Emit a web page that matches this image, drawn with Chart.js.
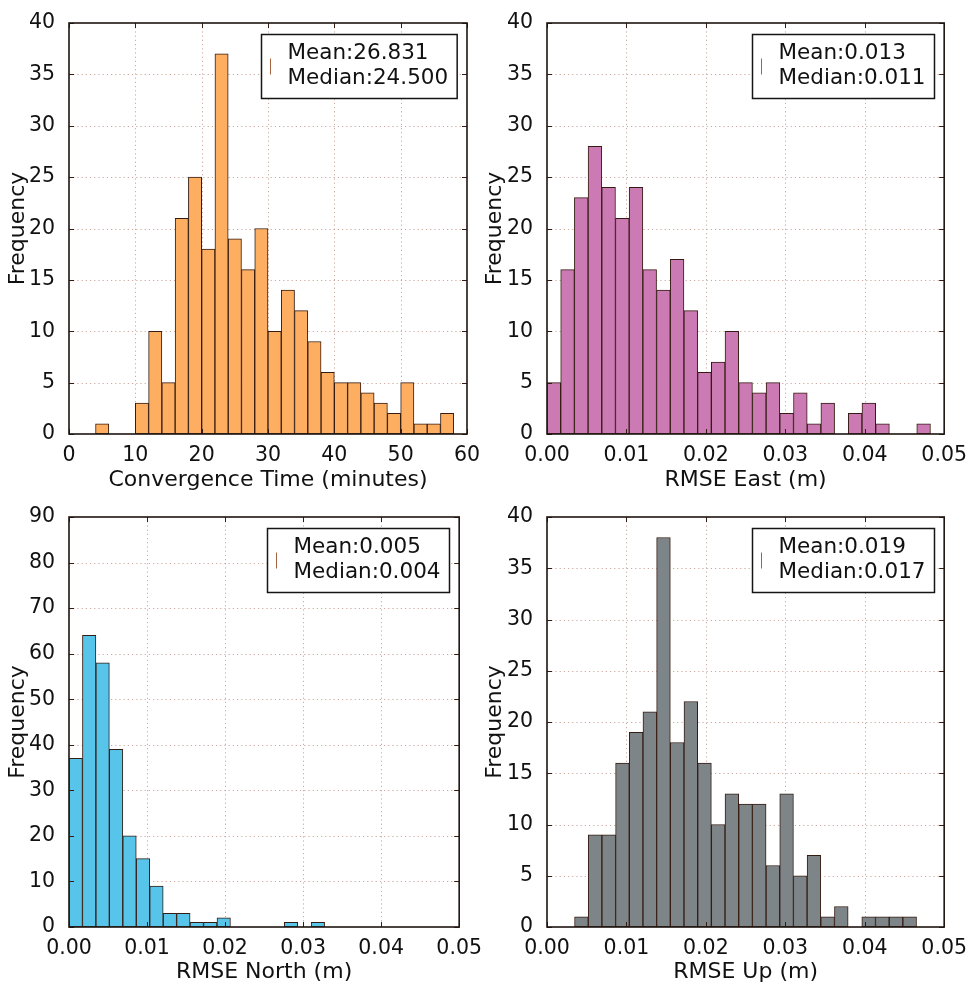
<!DOCTYPE html>
<html>
<head>
<meta charset="utf-8">
<script src="https://cdn.jsdelivr.net/npm/chart.js@4/dist/chart.umd.min.js"></script>
<style>
  html, body { margin: 0; padding: 0; background: #fff; }
  #page { position: relative; width: 970px; height: 983px; overflow: hidden; }
  .panel { position: absolute; }
</style>
</head>
<body>
<div id="page">
  <div class="panel" style="left:0;top:0"><canvas id="cTime" width="485" height="491"></canvas></div>
  <div class="panel" style="left:477px;top:0"><canvas id="cEast" width="493" height="491"></canvas></div>
  <div class="panel" style="left:0;top:491px"><canvas id="cNorth" width="485" height="492"></canvas></div>
  <div class="panel" style="left:477px;top:491px"><canvas id="cUp" width="493" height="492"></canvas></div>
</div>
<script>
// ---- histogram counts (254 sessions per panel) ----
const timeCounts  = [1, 0, 0, 3, 10, 5, 21, 25, 18, 37, 19, 16, 20, 10, 14, 12, 9, 6, 5, 5, 4, 3, 2, 5, 1, 1, 2];
const eastCounts  = [5, 16, 23, 28, 24, 21, 24, 16, 14, 17, 12, 6, 7, 10, 5, 4, 5, 2, 4, 1, 3, 0, 2, 3, 1, 0, 0, 1];
const northCounts = [37, 64, 58, 39, 20, 15, 9, 3, 3, 1, 1, 2, 0, 0, 0, 0, 1, 0, 1];
const upCounts    = [1, 9, 9, 16, 19, 21, 38, 18, 22, 16, 10, 13, 12, 12, 6, 13, 5, 7, 1, 2, 0, 1, 1, 1, 1];

// ---- bin layout: first left edge and bin width ----
const timeBins  = [4.0, 2.0];
const eastBins  = [0.0, 0.001724];
const northBins = [0.0, 0.001724];
const upBins    = [0.00347, 0.001722];

// ---- axis titles and statistics shown in the boxes ----
const xTitles = ['Convergence Time (minutes)', 'RMSE East (m)', 'RMSE North (m)', 'RMSE Up (m)'];
const meanLabels   = ['Mean:26.831', 'Mean:0.013', 'Mean:0.005', 'Mean:0.019'];
const medianLabels = ['Median:24.500', 'Median:0.011', 'Median:0.004', 'Median:0.017'];

// ---- axis ranges ----
const xMax   = [60, 0.05, 0.05, 0.05];
const xStep  = [10, 0.01, 0.01, 0.01];
const yMax   = [40, 40, 90, 40];
const yStep  = [5, 5, 10, 5];

const FONT = "'DejaVu Sans', 'Liberation Sans', sans-serif";
const TEXT = '#111111';
const EDGE = '#351c12';

function binPoints(counts, bins) {
  return counts.map((c, i) => ({ x: bins[0] + bins[1] * (i + 0.5), y: c }));
}

// grid, frame, inward ticks and the statistics box
const framePlugin = {
  id: 'frameBox',
  beforeDatasetsDraw(chart) {
    const { ctx, chartArea: a, scales: { x, y } } = chart;
    ctx.save();
    ctx.strokeStyle = 'rgba(190,140,125,0.75)';
    ctx.lineWidth = 1;
    ctx.setLineDash([1.2, 3]);
    x.ticks.forEach(t => {
      const px = Math.round(x.getPixelForValue(t.value)) + 0.5;
      if (px <= a.left + 1 || px >= a.right - 1) return;
      ctx.beginPath(); ctx.moveTo(px, a.top); ctx.lineTo(px, a.bottom); ctx.stroke();
    });
    y.ticks.forEach(t => {
      const py = Math.round(y.getPixelForValue(t.value)) + 0.5;
      if (py <= a.top + 1 || py >= a.bottom - 1) return;
      ctx.beginPath(); ctx.moveTo(a.left, py); ctx.lineTo(a.right, py); ctx.stroke();
    });
    ctx.restore();
  },
  afterDatasetsDraw(chart) {
    const { ctx, chartArea: a, scales: { x, y } } = chart;
    ctx.save();
    ctx.strokeStyle = EDGE;
    ctx.lineWidth = 1;
    const L = 5;
    x.ticks.forEach(t => {
      const px = Math.round(x.getPixelForValue(t.value)) + 0.5;
      ctx.beginPath();
      ctx.moveTo(px, a.bottom); ctx.lineTo(px, a.bottom - L);
      ctx.moveTo(px, a.top); ctx.lineTo(px, a.top + L);
      ctx.stroke();
    });
    y.ticks.forEach(t => {
      const py = Math.round(y.getPixelForValue(t.value)) + 0.5;
      ctx.beginPath();
      ctx.moveTo(a.left, py); ctx.lineTo(a.left + L, py);
      ctx.moveTo(a.right, py); ctx.lineTo(a.right - L, py);
      ctx.stroke();
    });
    ctx.strokeStyle = '#1e1510';
    ctx.lineWidth = 1.6;
    ctx.strokeRect(a.left, a.top, a.right - a.left, a.bottom - a.top);
    ctx.restore();
  },
  afterDraw(chart, args, opts) {
    if (!opts || !opts.lines) return;
    const { ctx, chartArea: a } = chart;
    ctx.save();
    ctx.font = `21.5px ${FONT}`;
    const tw = Math.max(...opts.lines.map(s => ctx.measureText(s).width));
    const w = 26 + tw + 9, h = 64;
    const bx = Math.round(a.right - 10 - w) + 0.5, by = Math.round(a.top + 11) + 0.5;
    ctx.fillStyle = '#fff';
    ctx.fillRect(bx, by, w, h);
    ctx.strokeStyle = '#151515';
    ctx.lineWidth = 1.5;
    ctx.strokeRect(bx, by, w, h);
    // legend handle
    ctx.strokeStyle = '#a5623f';
    ctx.lineWidth = 1;
    ctx.beginPath();
    ctx.moveTo(bx + 9, by + 24); ctx.lineTo(bx + 9, by + 40);
    ctx.stroke();
    ctx.fillStyle = TEXT;
    ctx.textAlign = 'left';
    ctx.textBaseline = 'middle';
    opts.lines.forEach((s, i) => ctx.fillText(s, bx + 26, by + 19 + i * 25));
    ctx.restore();
  }
};

function makeHist(id, idx, counts, bins, color, layout) {
  const data = binPoints(counts, bins);
  const decimals = xStep[idx] < 1 ? 2 : 0;
  return new Chart(document.getElementById(id), {
    type: 'bar',
    data: {
      datasets: [{
        data,
        backgroundColor: color,
        borderColor: EDGE,
        borderWidth: 1,
        borderSkipped: false,
        barPercentage: 1,
        categoryPercentage: 1
      }]
    },
    options: {
      responsive: false,
      animation: false,
      devicePixelRatio: 1,
      layout: { padding: { top: layout.top, right: layout.right, left: 0, bottom: 0 } },
      plugins: {
        legend: { display: false },
        tooltip: { enabled: false },
        frameBox: { lines: [meanLabels[idx], medianLabels[idx]] }
      },
      scales: {
        x: {
          type: 'linear',
          min: 0, max: xMax[idx],
          offset: false,
          grid: { display: false },
          border: { display: false },
          ticks: {
            stepSize: xStep[idx],
            color: TEXT,
            padding: 3,
            maxRotation: 0,
            font: { family: FONT, size: 20.5, lineHeight: 1 },
            callback: v => Number(v).toFixed(decimals)
          },
          title: {
            display: true, text: xTitles[idx], color: TEXT,
            padding: 0,
            font: { family: FONT, size: 22, lineHeight: 1 }
          },
          afterFit: s => { s.height = layout.xh; }
        },
        y: {
          min: 0, max: yMax[idx],
          grid: { display: false },
          border: { display: false },
          ticks: {
            stepSize: yStep[idx],
            color: TEXT,
            padding: 6,
            font: { family: FONT, size: 20.5, lineHeight: 1 }
          },
          title: {
            display: true, text: 'Frequency', color: TEXT,
            padding: { top: 7, bottom: 0 },
            font: { family: FONT, size: 22, lineHeight: 1 }
          },
          afterFit: s => { s.width = layout.yw; }
        }
      }
    },
    plugins: [framePlugin]
  });
}

makeHist('cTime', 0, timeCounts, timeBins, '#fdae60', { top: 23, right: 18, xh: 57, yw: 69 });
makeHist('cEast', 1, eastCounts, eastBins, '#cc7ab4', { top: 23, right: 25, xh: 57, yw: 70 });
makeHist('cNorth', 2, northCounts, northBins, '#57c4ea', { top: 26, right: 18, xh: 56, yw: 69 });
makeHist('cUp', 3, upCounts, upBins, '#7e8589', { top: 26, right: 25, xh: 56, yw: 70 });
</script>
</body>
</html>
